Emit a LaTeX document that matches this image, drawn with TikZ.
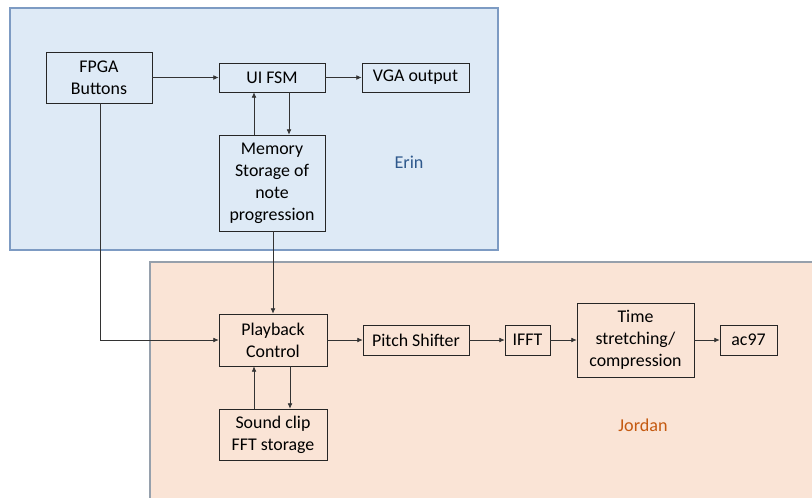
\documentclass[tikz,border=0pt]{standalone}
\usepackage{fontspec}
\setmainfont{Carlito}
\usetikzlibrary{arrows.meta}

\definecolor{erinfill}{RGB}{222,234,246}
\definecolor{erinline}{RGB}{125,155,195}
\definecolor{erintext}{RGB}{46,88,140}
\definecolor{jordanfill}{RGB}{250,228,214}
\definecolor{jordanline}{RGB}{150,160,172}
\definecolor{jordantext}{RGB}{197,90,17}

\tikzset{
  block/.style={draw=black!85, line width=0.6pt, align=center, inner sep=0pt,
    font=\fontsize{13.4}{16.5}\selectfont},
  link/.style={-{Latex[length=4pt,width=3.5pt]}, black!80, line width=0.45pt}
}

\begin{document}
\begin{tikzpicture}[x=0.75pt, y=-0.75pt]
  \useasboundingbox (0,0) rectangle (812,497);
  % team areas
  \draw[fill=erinfill, draw=erinline, line width=1.2pt] (10,8) rectangle (498,250);
  \draw[fill=jordanfill, draw=jordanline, line width=1.2pt] (150,262) rectangle (814,499);
  \node(erin) at (409,162) [text=erintext, font=\fontsize{13.6}{16}\selectfont] {Erin};
  \node(jordan) at (643,425) [text=jordantext, font=\fontsize{13.6}{16}\selectfont] {Jordan};

  % Erin's blocks
  \node(fpga) at (99,77.5) [block, minimum width=79.5pt, minimum height=38.25pt] {FPGA\\Buttons};
  \node(uifsm) at (272,77.5) [block, minimum width=79.5pt, minimum height=21.75pt] {UI FSM};
  \node(vga) at (415.5,77.5) [block, minimum width=80.25pt, minimum height=21.75pt] {VGA output};
  \node(mem) at (272,183) [block, minimum width=79.5pt, minimum height=72pt] {Memory\\Storage of\\note\\progression};

  % Jordan's blocks
  \node(play) at (273,340) [block, minimum width=81pt, minimum height=39pt] {Playback\\Control};
  \node(sound) at (273,434.5) [block, minimum width=81pt, minimum height=38.25pt] {Sound clip\\FFT storage};
  \node(pitch) at (416,340) [block, minimum width=79.5pt, minimum height=22.5pt] {Pitch Shifter};
  \node(ifft) at (527.5,340) [block, minimum width=33.75pt, minimum height=22.5pt] {IFFT};
  \node(time) at (635.5,340) [block, minimum width=87.75pt, minimum height=55.5pt] {Time\\stretching/\\compression};
  \node(ac97) at (748.5,340) [block, minimum width=42.75pt, minimum height=22.5pt] {ac97};

  \draw[link] (fpga) -- (uifsm);
  \draw[link] (uifsm) -- (vga);
  \draw[link] ([xshift=-13.5pt]mem.north) -- ([xshift=-13.5pt]uifsm.south);
  \draw[link] ([xshift=12.75pt]uifsm.south) -- ([xshift=12.75pt]mem.north);
  \draw[link] ([xshift=0.75pt]fpga.south) |- (play.west);
  \draw[link] ([xshift=0.75pt]mem.south) -- ([xshift=0.75pt]mem.south |- play.north);
  \draw[link] ([xshift=12.75pt]play.south) -- ([xshift=12.75pt]play.south |- sound.north);
  \draw[link] ([xshift=-14.25pt]sound.north) -- ([xshift=-14.25pt]sound.north |- play.south);
  \draw[link] (play) -- (pitch);
  \draw[link] (pitch) -- (ifft);
  \draw[link] (ifft) -- (time);
  \draw[link] (time) -- (ac97);
\end{tikzpicture}
\end{document}
